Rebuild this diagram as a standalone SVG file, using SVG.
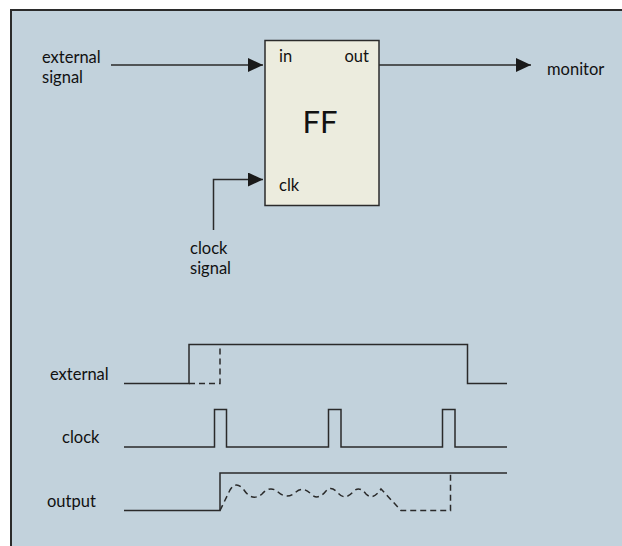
<svg xmlns="http://www.w3.org/2000/svg" width="622" height="546" viewBox="0 0 622 546">
<style>
text{font-family:Lato,"Open Sans","Liberation Sans",sans-serif;font-size:16.5px;fill:#111111}
.w{fill:none;stroke:#2a2a2a;stroke-width:1.5}
.d{fill:none;stroke:#2a2a2a;stroke-width:1.5;stroke-dasharray:6 4}
</style>
<defs>
<marker id="ah" viewBox="0 0 15 14" refX="15" refY="7" markerWidth="15" markerHeight="14" markerUnits="userSpaceOnUse" orient="auto">
<path d="M0,0 L15,7 L0,14 Z" fill="#1a1a1a"/>
</marker>
</defs>
<rect x="0" y="0" width="622" height="546" fill="#ffffff"/>
<rect x="11" y="10" width="700" height="700" fill="#c2d2dc" stroke="#2b2b2b" stroke-width="2"/>
<g id="connectors">
<path class="w" d="M111,65 H263" marker-end="url(#ah)"/>
<path class="w" d="M213.5,230 V179.5 H263" marker-end="url(#ah)"/>
<path class="w" d="M379,65 H531" marker-end="url(#ah)"/>
</g>
<g id="ff">
<rect x="265" y="40.5" width="114" height="165" fill="#ececde" stroke="#2b2b2b" stroke-width="1.5"/>
<text x="279" y="62">in</text>
<text x="369" y="62" text-anchor="end">out</text>
<text x="279" y="191">clk</text>
<text x="320" y="133" text-anchor="middle" style="font-size:31px">FF</text>
</g>
<g id="labels">
<text x="42" y="63">external</text>
<text x="42" y="82.5">signal</text>
<text x="547" y="75">monitor</text>
<text x="190" y="254">clock</text>
<text x="190" y="273.5">signal</text>
</g>
<g id="timing">
<text x="50" y="380">external</text>
<text x="62" y="443">clock</text>
<text x="47" y="507">output</text>
<path class="w" d="M124,383.5 H189 V344.5 H467.5 V383.5 H507"/>
<path class="d" d="M189,383.5 H220 V344.5"/>
<path class="w" d="M124,447 H214.5 V409.5 H226.5 V447 H328.5 V409.5 H341 V447 H442.5 V409.5 H455 V447 H507"/>
<path class="w" d="M124,510.5 H220 V473 H507"/>
<path class="d" d="M220,510.5 L230,490 Q236,480 244,490 Q252,502 262,494 Q270,485 278,492 Q287,500 296,492 Q303,486 311,494 Q318,501 326,491 Q331,485 338,493 Q345,501 353,492 Q359,485 366,494 Q373,501 381,489 L401,510.5 H450.5 V473"/>
</g>
</svg>
